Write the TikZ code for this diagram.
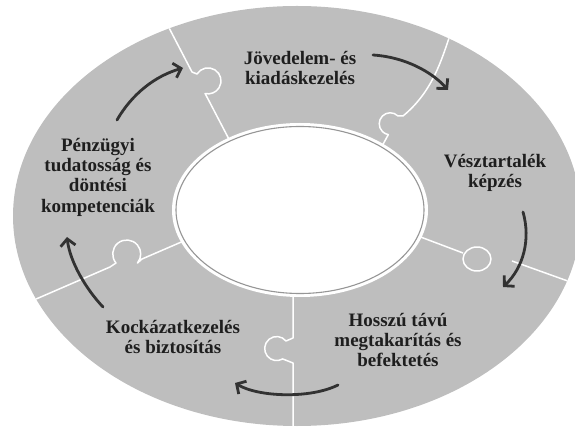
\documentclass[tikz,border=0pt]{standalone}
\usepackage{fontspec}
\setmainfont{Liberation Serif}
\usetikzlibrary{arrows.meta}
\definecolor{ringgray}{RGB}{190,190,190}
\definecolor{arrgray}{RGB}{50,50,50}
\definecolor{txt}{RGB}{30,30,30}
\definecolor{rimgray}{RGB}{150,150,150}
\tikzset{
  divider/.style={draw=white, line width=1.5pt, line join=round},
  cyclearrow/.style={draw=arrgray, line width=2.8pt, line cap=round,
     -{Straight Barb[length=7pt,width=15pt,line width=2.8pt]}},
  label/.style={font=\fontsize{19}{20.3}\selectfont\bfseries, text=txt, align=center, inner sep=0pt}
}
\begin{document}
\begin{tikzpicture}[x=1pt,y=-1pt]
\useasboundingbox (0,0) rectangle (575,427);
\begin{scope}
\clip (0,0) rectangle (575,427);
% outer ring
\fill[ringgray] (297,216) ellipse[x radius=284, y radius=210];
% dividers
\begin{scope}
\clip (297,216) ellipse[x radius=284, y radius=210];
% top-left
\path[divider] (166,22) -- (192,72) -- (197,74) arc[start angle=-148, end angle=103, radius=13] -- (208,99) -- (232,145);
% top-right
\path[divider] (451,32) .. controls (441,62) and (432,92) .. (403,116) -- (398,116)
   arc[start angle=-45, end angle=-260, radius=11] -- (381,148);
% right
\path[divider] (410,233) -- (463,253);
\path[divider] (477,259) ellipse[x radius=14, y radius=12];
\path[divider] (512,261) -- (590,289);
% bottom
\path[divider] (293,290) -- (293,338) -- (286,341) arc[start angle=-39, end angle=-300, radius=12] -- (293,363) -- (293,440);
% left
\path[divider] (20,306) -- (110,267) -- (116,263) arc[start angle=140, end angle=400, radius=14] -- (142,259) -- (186,240);
\end{scope}
% inner hole
\fill[white] (300,210) ellipse[x radius=128, y radius=87];
\draw[rimgray, line width=1.1pt] (300,210) ellipse[x radius=124, y radius=83.5];
\end{scope}
% labels
\node[label] (top) at (300,68) {Jövedelem- és\\kiadáskezelés};
\node[label] (right) at (495,173) {Vésztartalék\\képzés};
\node[label] (bottom) at (398,340) {Hosszú távú\\megtakarítás és\\befektetés};
\node[label] (left) at (173,337) {Kockázatkezelés\\és biztosítás};
\node[label] (upleft) at (98,177) {Pénzügyi\\tudatosság és\\döntési\\kompetenciák};
% arrow end points
\coordinate (a1s) at (117,120); \coordinate (a1e) at (183,68);
\coordinate (a2s) at (373,55);  \coordinate (a2e) at (448,90);
\coordinate (a3s) at (523,212); \coordinate (a3e) at (503,287);
\coordinate (a4s) at (338,385); \coordinate (a4e) at (235,383);
\coordinate (a5s) at (103,307); \coordinate (a5e) at (67,237);
\draw[cyclearrow] (a1s) .. controls (132,94) and (155,76) .. (a1e);
\draw[cyclearrow] (a2s) .. controls (405,57) and (432,72) .. (a2e);
\draw[cyclearrow] (a3s) .. controls (531,240) and (523,268) .. (a3e);
\draw[cyclearrow] (a4s) .. controls (310,399) and (258,397) .. (a4e);
\draw[cyclearrow] (a5s) .. controls (86,289) and (70,262) .. (a5e);
\end{tikzpicture}
\end{document}
